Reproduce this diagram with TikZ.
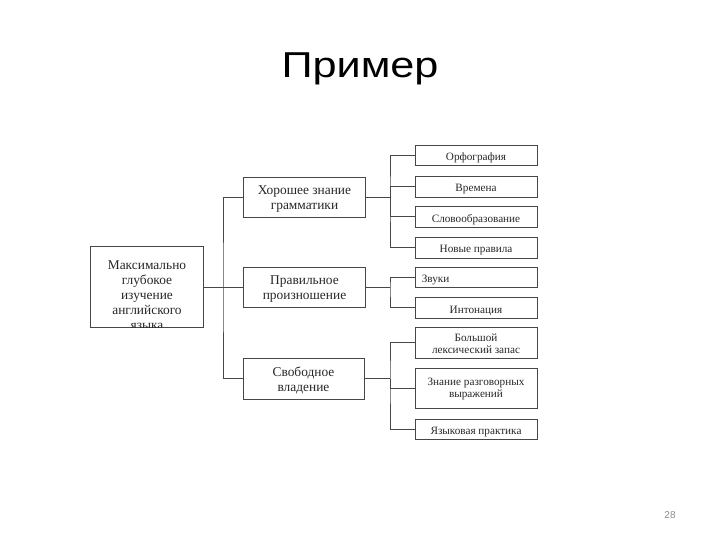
\documentclass[tikz,border=0pt]{standalone}
\usepackage{fontspec}
\setmainfont{Liberation Serif}
\newfontfamily\titlefont{Liberation Sans}
\begin{document}
\begin{tikzpicture}[x=1pt,y=-1pt,
  line/.style={draw=black!72, line width=0.8pt},
  frame/.style={line, inner sep=0pt},
  bigtxt/.style={font=\fontsize{13.4}{15}\selectfont, align=center, text=black!85, inner sep=0pt},
  smalltxt/.style={font=\fontsize{11.2}{12.5}\selectfont, align=center, text=black!85, inner sep=0pt},
  t1/.style={bigtxt, yshift=-2pt},
  t2/.style={smalltxt, yshift=-3pt},
  t2m/.style={smalltxt, yshift=-1pt},
  lone/.style={frame, minimum width=122pt, minimum height=40pt},
  ltwo/.style={frame, minimum width=122pt}]
\useasboundingbox (0,0) rectangle (720,540);
\node[font=\titlefont\fontsize{36}{40}\selectfont, anchor=base, inner sep=0pt] (title) at (360,78) {\scalebox{1.2}[1]{Пример}};
\node[font=\titlefont\fontsize{10}{12}\selectfont, text=black!45] (page) at (670,515) {28};

% root
\node[frame, minimum width=113pt, minimum height=81pt] (root) at (147,287) {};
\begin{scope}
  \clip (root.south west) rectangle (root.north east);
  \node[bigtxt] (roottxt) at (147,295) {Максимально\\глубокое\\изучение\\английского\\языка};
\end{scope}

% level 1
\node[lone, label={[t1]center:{Хорошее знание\\грамматики}}] (l1) at (304.5,197) {};
\node[lone, label={[t1]center:{Правильное\\произношение}}] (l2) at (304.5,287) {};
\node[lone, minimum width=121pt, minimum height=41pt, label={[t1]center:{Свободное\\владение}}] (l3) at (303.5,378.5) {};

% level 2
\node[ltwo, minimum height=20pt, label={[t2]center:Орфография}] (a1) at (476,155) {};
\node[ltwo, minimum height=21pt, label={[t2]center:Времена}] (a2) at (476,186.5) {};
\node[ltwo, minimum height=21pt, label={[t2]center:Словообразование}] (a3) at (476,216.5) {};
\node[ltwo, minimum height=21pt, label={[t2]center:Новые правила}] (a4) at (476,247.5) {};
\node[ltwo, minimum height=20pt, label={[t2, anchor=west, xshift=7pt]west:Звуки}] (s1) at (476,277) {};
\node[ltwo, minimum height=21pt, label={[t2]center:Интонация}] (s2) at (476,307.5) {};
\node[ltwo, minimum height=31pt, label={[t2m]center:{Большой\\лексический запас}}] (f1) at (476,342.5) {};
\node[ltwo, minimum height=40pt, label={[t2m]center:{Знание разговорных\\выражений}}] (f2) at (476,388) {};
\node[ltwo, minimum height=20pt, label={[t2]center:Языковая практика}] (f3) at (476,429) {};

% connectors
\coordinate (t) at (223,287);
\coordinate (g) at (390,197);
\coordinate (s) at (390,287);
\coordinate (f) at (390,378.5);
\draw[line] (root.east) -- (l2.west);
\draw[line] (l1.west) -| (t) |- (l3.west);
\draw[line] (l1.east) -- (g);
\draw[line] (a1.west) -| (g) |- (a4.west);
\draw[line] (g) |- (a2.west);
\draw[line] (g) |- (a3.west);
\draw[line] (l2.east) -- (s);
\draw[line] (s1.west) -| (s) |- (s2.west);
\draw[line] (l3.east) -- (f);
\draw[line] (f1.west) -| (f) |- (f3.west);
\draw[line] (f) |- (f2.west);
\end{tikzpicture}
\end{document}
